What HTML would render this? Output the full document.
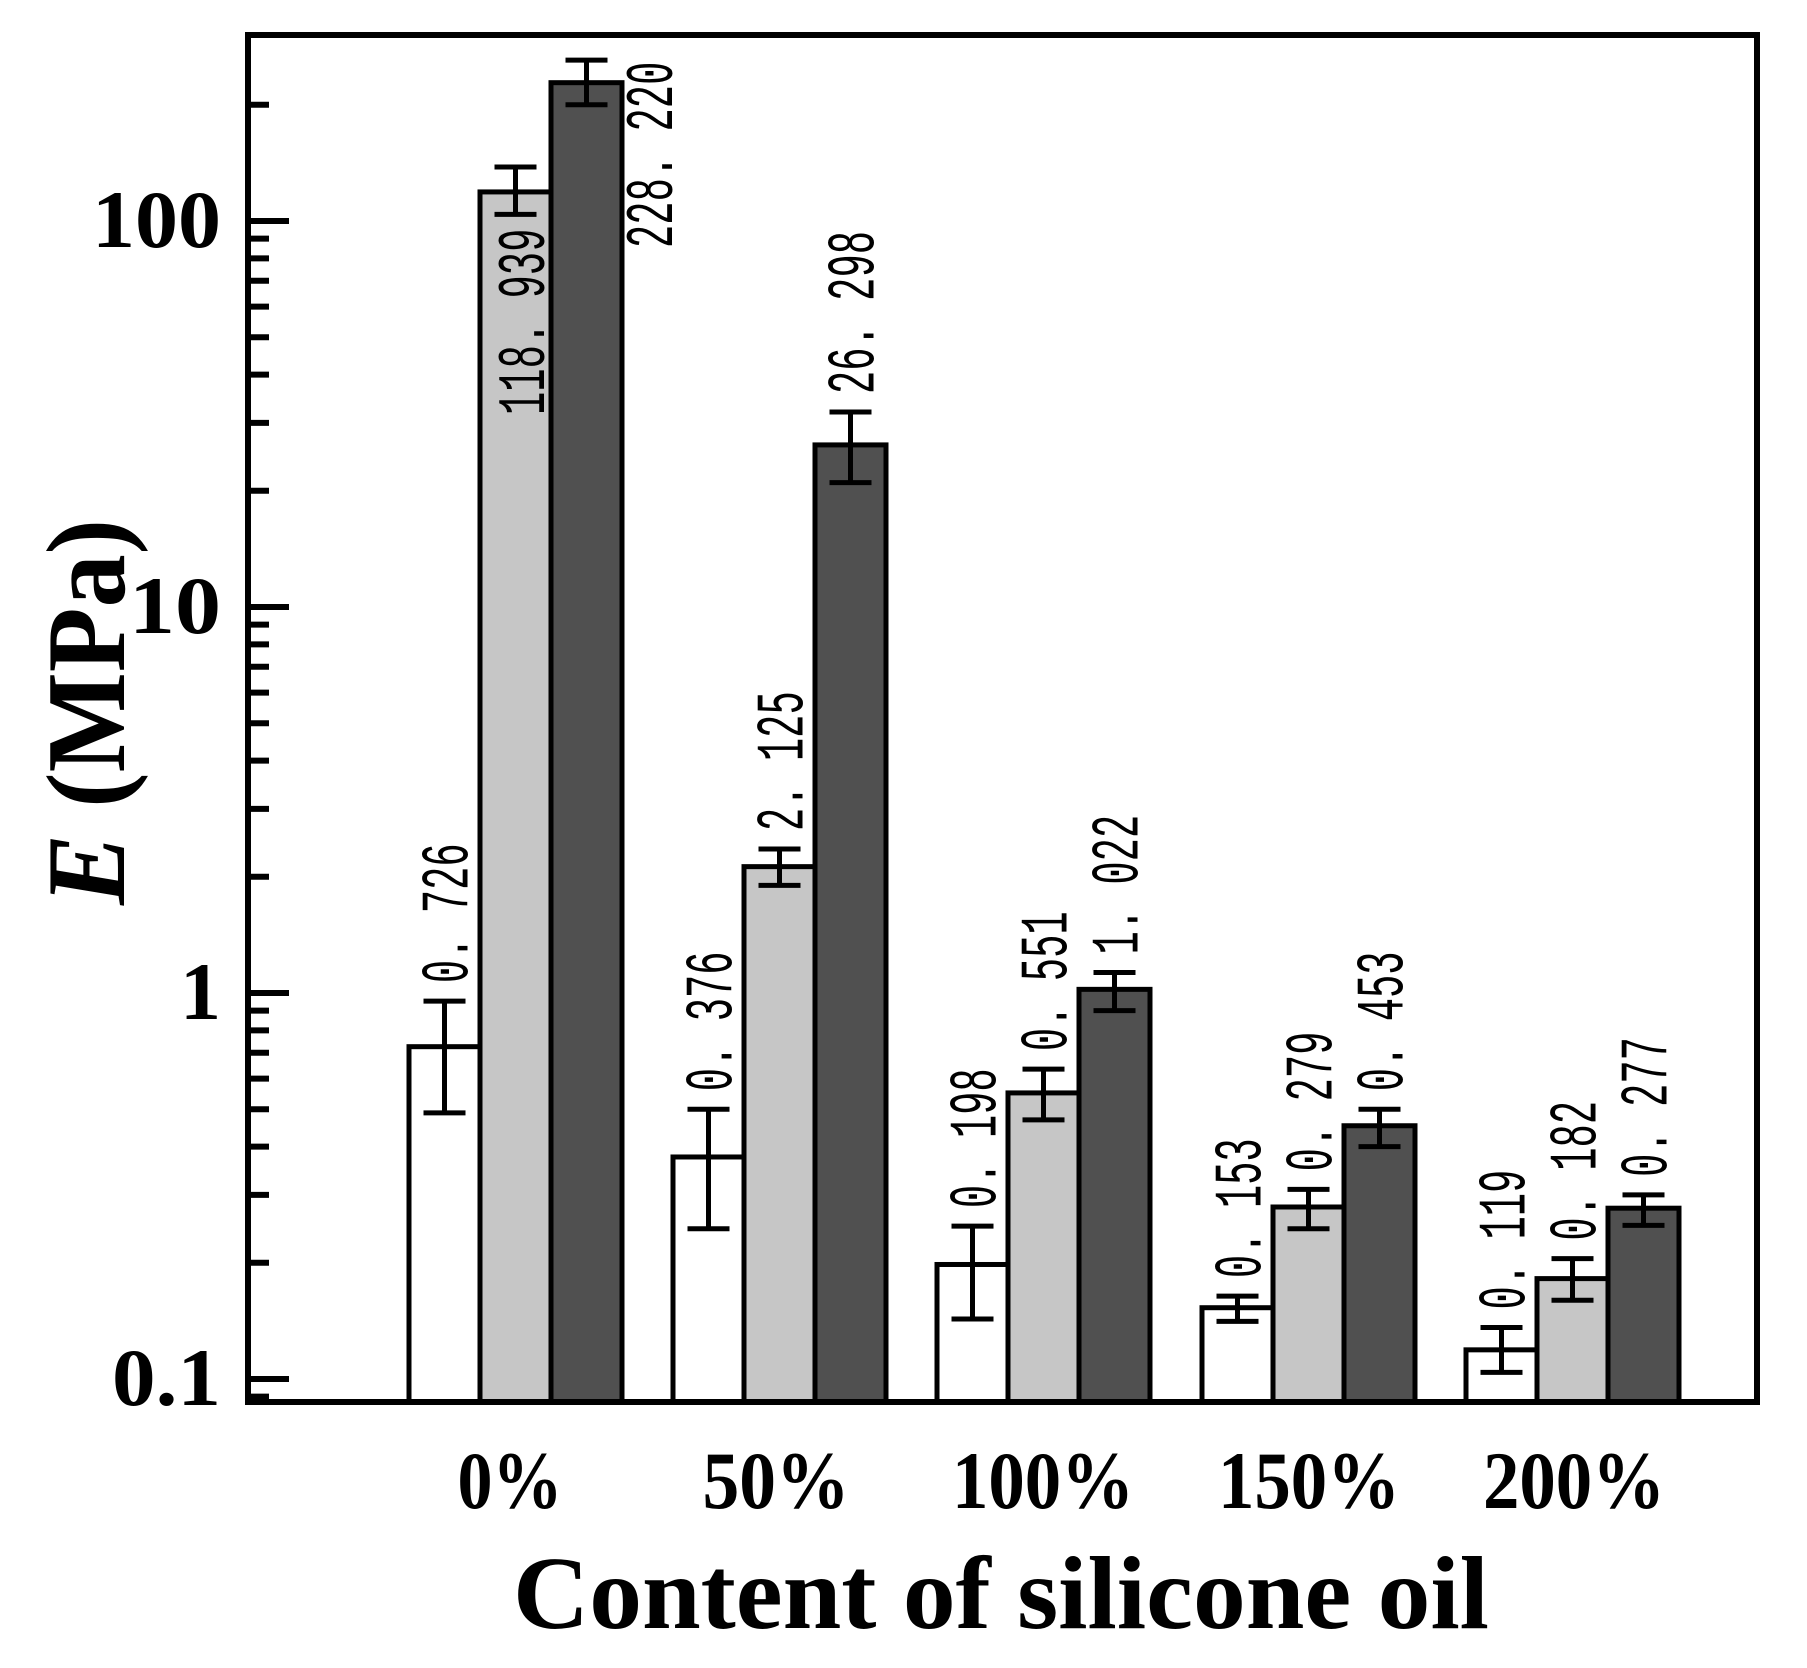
<!DOCTYPE html>
<html><head><meta charset="utf-8"><style>html,body{margin:0;padding:0;background:#fff}svg{display:block}</style></head>
<body>
<svg width="1807" height="1668" viewBox="0 0 1807 1668" xmlns="http://www.w3.org/2000/svg">
<rect width="1807" height="1668" fill="#fff"/>
<g id="bars" stroke="#000" stroke-width="5"></g>
<g id="err" stroke="#000" stroke-width="5" fill="none"></g>
<g id="labels" font-family="Liberation Mono, monospace" font-size="68" fill="#000"></g>
<g id="ticks" stroke="#000" stroke-width="6"></g>
<rect x="248" y="35" width="1509" height="1367" fill="none" stroke="#000" stroke-width="6"/>
<g font-family="Liberation Serif, serif" font-weight="bold" fill="#000" font-size="82">
<text x="221" y="247" text-anchor="end" textLength="129" lengthAdjust="spacingAndGlyphs">100</text>
<text x="221" y="633" text-anchor="end" textLength="92" lengthAdjust="spacingAndGlyphs">10</text>
<text x="221" y="1019" text-anchor="end">1</text>
<text x="221" y="1405" text-anchor="end" textLength="109" lengthAdjust="spacingAndGlyphs">0.1</text>
<text x="510" y="1508" text-anchor="middle" textLength="105" lengthAdjust="spacingAndGlyphs">0%</text>
<text x="776" y="1508" text-anchor="middle" textLength="147" lengthAdjust="spacingAndGlyphs">50%</text>
<text x="1043" y="1508" text-anchor="middle" textLength="182" lengthAdjust="spacingAndGlyphs">100%</text>
<text x="1309" y="1508" text-anchor="middle" textLength="182" lengthAdjust="spacingAndGlyphs">150%</text>
<text x="1574" y="1508" text-anchor="middle" textLength="182" lengthAdjust="spacingAndGlyphs">200%</text>
<text x="1001" y="1628" text-anchor="middle" font-size="104" textLength="976" lengthAdjust="spacingAndGlyphs">Content of silicone oil</text>
<text transform="translate(124,712) rotate(-90)" text-anchor="middle" font-size="112" textLength="386" lengthAdjust="spacingAndGlyphs"><tspan font-style="italic">E</tspan> (MPa)</text>
</g>
<script>
(function(){
var NS="http://www.w3.org/2000/svg";
function Y(v){return 993-386*Math.log10(v);}
function el(p,t,a,txt){var e=document.createElementNS(NS,t);for(var k in a)e.setAttribute(k,a[k]);if(txt)e.textContent=txt;document.getElementById(p).appendChild(e);return e;}
var fills=["#ffffff","#c6c6c6","#505050"];
var starts=[409,673,937,1202,1466];var W=71;
var data=[
[[0.726,0.953,0.489,"0. 726"],[118.939,138,104,"118. 939"],[228.22,261,200,"228. 220"]],
[[0.376,0.50,0.245,"0. 376"],[2.125,2.36,1.9,"2. 125"],[26.298,32,21,"26. 298"]],
[[0.198,0.249,0.143,"0. 198"],[0.551,0.635,0.469,"0. 551"],[1.022,1.13,0.90,"1. 022"]],
[[0.153,0.164,0.141,"0. 153"],[0.279,0.31,0.245,"0. 279"],[0.453,0.50,0.40,"0. 453"]],
[[0.119,0.136,0.104,"0. 119"],[0.182,0.205,0.16,"0. 182"],[0.277,0.30,0.25,"0. 277"]]];
for(var g=0;g<5;g++)for(var i=0;i<3;i++){
 var d=data[g][i];var x=starts[g]+i*W;var y=Y(d[0]);
 el("bars","rect",{x:x,y:y,width:W,height:1402-y,fill:fills[i]});
 var cx=x+W/2,t=Y(d[1]),b=Y(d[2]);
 el("err","path",{d:"M"+cx+" "+t+"V"+b+"M"+(cx-21)+" "+t+"H"+(cx+21)+"M"+(cx-21)+" "+b+"H"+(cx+21)});
 var lx=cx,ly=t-18;
 if(g==0&&i==1){lx=521;ly=415;}
 if(g==0&&i==2){lx=649;ly=248;}
 var len=d[3].length*23.3;
 el("labels","text",{transform:"translate("+(lx+23)+","+ly+") rotate(-90)",textLength:len,lengthAdjust:"spacingAndGlyphs"},d[3]);
}
for(var e=-2;e<=2;e++)for(var m=1;m<=9;m++){
 var v=m*Math.pow(10,e);var y=Y(v);if(y<38||y>1400)continue;
 var L=(m==1)?41:21;
 el("ticks","line",{x1:248,x2:248+L,y1:y,y2:y});
}
})();
</script>
</svg>
</body></html>
